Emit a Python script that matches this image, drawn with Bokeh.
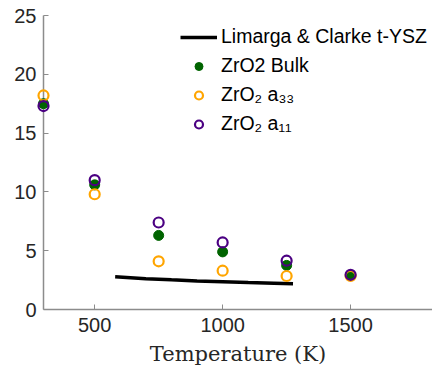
from bokeh.plotting import figure
from bokeh.models import Range1d, Legend, LegendItem, FixedTicker
from bokeh.embed import file_html
from bokeh.resources import INLINE

# Data
temps = [300, 500, 750, 1000, 1250, 1500]
bulk = [17.5, 10.6, 6.3, 4.9, 3.75, 2.9]
a33 = [18.2, 9.8, 4.1, 3.3, 2.85, 2.85]
a11 = [17.3, 11.0, 7.4, 5.7, 4.15, 2.95]

lim_t = [580, 700, 800, 900, 1000, 1100, 1200, 1275]
lim_v = [2.78, 2.62, 2.52, 2.43, 2.36, 2.29, 2.24, 2.2]

x_ticks = [500, 1000, 1500]
y_ticks = [0, 5, 10, 15, 20, 25]

p = figure(width=432, height=369, output_backend="svg", toolbar_location=None,
           x_range=Range1d(300, 1820), y_range=Range1d(0, 25),
           min_border_left=43, min_border_right=0, min_border_top=15, min_border_bottom=60)

p.outline_line_color = None
p.grid.visible = False
p.background_fill_color = "white"

r_line = p.line(lim_t, lim_v, line_color="black", line_width=3.5)
r_bulk = p.scatter(temps, bulk, marker="circle", size=10, fill_color="#006400", line_color="#006400", level="overlay")
r_a33 = p.scatter(temps, a33, marker="circle", size=10, fill_color=None, line_color="#FFA500", line_width=2.2, level="overlay")
r_a11 = p.scatter(temps, a11, marker="circle", size=10, fill_color=None, line_color="#4B0082", line_width=2.2, level="overlay")

for ax in (p.xaxis[0], p.yaxis[0]):
    ax.axis_line_color = "#8c8c8c"
    ax.axis_line_width = 1.5
    ax.major_tick_line_color = "#8c8c8c"
    ax.major_tick_in = 5
    ax.major_tick_out = 0
    ax.minor_tick_line_color = None
    ax.major_label_text_font = "Liberation Sans"
    ax.major_label_text_font_size = "20px"
    ax.major_label_text_color = "#262626"

p.xaxis.ticker = FixedTicker(ticks=x_ticks)
p.yaxis.ticker = FixedTicker(ticks=y_ticks)
p.xaxis.major_label_standoff = 8
p.yaxis.major_label_standoff = 7
p.xaxis.axis_label = "Temperature (K)"
p.xaxis.axis_label_text_font = "DejaVu Serif"
p.xaxis.axis_label_text_font_style = "normal"
p.xaxis.axis_label_text_font_size = "21px"
p.xaxis.axis_label_text_color = "#262626"
p.xaxis.axis_label_standoff = 7

legend = Legend(items=[
    LegendItem(label="Limarga & Clarke t-YSZ", renderers=[r_line]),
    LegendItem(label="ZrO2 Bulk", renderers=[r_bulk]),
    LegendItem(label="ZrO\u2082 a\u2083\u2083", renderers=[r_a33]),
    LegendItem(label="ZrO\u2082 a\u2081\u2081", renderers=[r_a11]),
], location=(137, 174))
legend.border_line_color = None
legend.background_fill_alpha = 0
legend.padding = 0
legend.margin = 0
legend.spacing = 6
legend.glyph_width = 37
legend.glyph_height = 20
legend.label_height = 20
legend.label_standoff = 4
legend.label_text_font = "Liberation Sans"
legend.label_text_font_size = "19.5px"
legend.label_text_color = "black"
p.add_layout(legend, "center")

open("out.html", "w").write(file_html(p, INLINE))
